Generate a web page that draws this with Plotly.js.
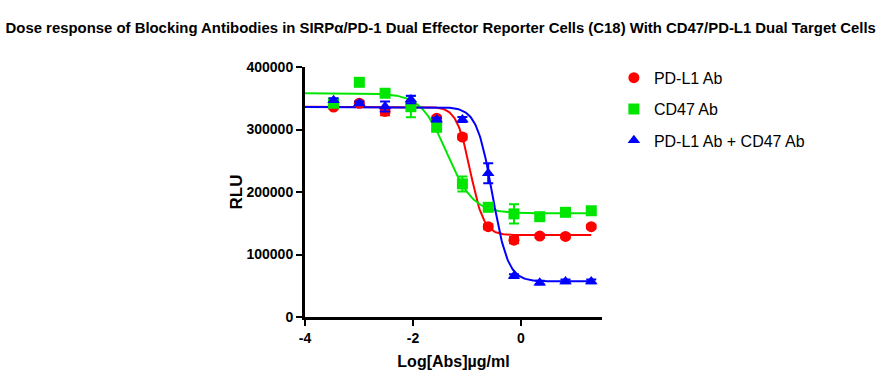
<!DOCTYPE html>
<html>
<head>
<meta charset="utf-8">
<script src="https://cdn.plot.ly/plotly-3.0.1.min.js"></script>
<style>html,body{margin:0;padding:0;background:#fff;}#chart{width:894px;height:390px;}</style>
</head>
<body>
<div id="chart"></div>
<script>
// log10 concentration (µg/ml), 3-fold dilutions
const logConc = [-3.471, -2.994, -2.517, -2.039, -1.562, -1.085, -0.607, -0.130, 0.347, 0.824, 1.301];

const seriesNames = ["PD-L1 Ab", "CD47 Ab", "PD-L1 Ab + CD47 Ab"];

const pdl1Values = [336000, 342000, 329000, 340000, 318000, 288000, 144500, 123000, 129500, 129000, 144500];
const pdl1Errors = [3000, 3000, 6000, 4000, 3000, 4000, 4000, 5000, 3000, 3000, 3000];

const cd47Values = [342000, 375500, 358000, 336500, 303500, 213000, 175500, 165000, 160500, 167500, 170000];
const cd47Errors = [4000, 4000, 5000, 17000, 3000, 12000, 4000, 15500, 4000, 3000, 3000];

const comboValues = [347000, 342000, 337000, 348000, 316000, 316000, 230000, 65500, 55000, 57000, 57000];
const comboErrors = [3000, 3000, 8000, 6000, 3000, 4000, 16000, 3000, 3000, 3000, 3000];

// fitted 4-parameter logistic curve parameters
const fitTop     = [336500, 358000, 336000];
const fitBottom  = [131000, 166000, 57000];
const fitLogEC50 = [-0.94, -1.37, -0.53];
const fitHill    = [3.45, 1.8, 3.0];
const fitXRange  = [-4.0, 1.301];

const colors = ["#ff0000", "#00e600", "#0000ff"];
const symbols = ["circle", "square", "triangle-up"];
const valueSets = [pdl1Values, cd47Values, comboValues];
const errorSets = [pdl1Errors, cd47Errors, comboErrors];

const traces = [];
for (let s = 0; s < 3; s++) {
  const cx = [], cy = [];
  const n = 300;
  for (let i = 0; i <= n; i++) {
    const x = fitXRange[0] + (fitXRange[1] - fitXRange[0]) * i / n;
    cx.push(x);
    cy.push(fitBottom[s] + (fitTop[s] - fitBottom[s]) / (1 + Math.pow(10, (x - fitLogEC50[s]) * fitHill[s])));
  }
  traces.push({
    x: cx, y: cy, mode: "lines", type: "scatter",
    line: {color: colors[s], width: 2}, showlegend: false, hoverinfo: "skip", cliponaxis: false
  });
}
for (let s = 0; s < 3; s++) {
  traces.push({
    x: logConc, y: valueSets[s], mode: "markers", type: "scatter",
    name: seriesNames[s], legendgroup: "g" + s,
    marker: {color: colors[s], symbol: symbols[s], size: 11, line: {width: 0}},
    error_y: {type: "data", array: errorSets[s], visible: true, color: colors[s], thickness: 2, width: 5},
    cliponaxis: false
  });
}

const layout = {
  width: 894, height: 390,
  margin: {l: 305, r: 292, t: 67, b: 73},
  paper_bgcolor: "#ffffff", plot_bgcolor: "#ffffff",
  font: {family: "Liberation Sans, Arial, sans-serif", color: "#000"},
  title: {
    text: "<b>Dose response of Blocking Antibodies in SIRPα/PD-1 Dual Effector Reporter Cells (C18) With CD47/PD-L1 Dual Target Cells</b>",
    font: {size: 14.9, family: "Liberation Sans, Arial, sans-serif", color: "#000"},
    x: 0.493, xanchor: "center", y: 0.93, yanchor: "middle"
  },
  xaxis: {
    range: [-4, 1.5], tickvals: [-4, -2, 0], ticktext: ["<b>-4</b>", "<b>-2</b>", "<b>0</b>"],
    showgrid: false, zeroline: false, showline: true, linecolor: "#000", linewidth: 3,
    ticks: "outside", ticklen: 6, tickwidth: 2, tickcolor: "#000",
    tickfont: {size: 14, color: "#000"},
    title: {text: "<b>Log[Abs]µg/ml</b>", font: {size: 16, color: "#000"}, standoff: 12}
  },
  yaxis: {
    range: [0, 400000], tickvals: [0, 100000, 200000, 300000, 400000],
    ticktext: ["<b>0</b>", "<b>100000</b>", "<b>200000</b>", "<b>300000</b>", "<b>400000</b>"],
    showgrid: false, zeroline: false, showline: true, linecolor: "#000", linewidth: 3,
    ticks: "outside", ticklen: 6, tickwidth: 2, tickcolor: "#000",
    tickfont: {size: 14, color: "#000"},
    title: {text: "<b>RLU</b>", font: {size: 17, color: "#000"}, standoff: 0}
  },
  legend: {
    x: 1.04, xanchor: "left", y: 1.025, yanchor: "top",
    font: {size: 16, color: "#000"}, traceorder: "grouped", tracegroupgap: 7.5,
    bgcolor: "rgba(0,0,0,0)", itemclick: false
  },
  showlegend: true
};

Plotly.newPlot("chart", traces, layout, {displayModeBar: false, staticPlot: true});
</script>
</body>
</html>
